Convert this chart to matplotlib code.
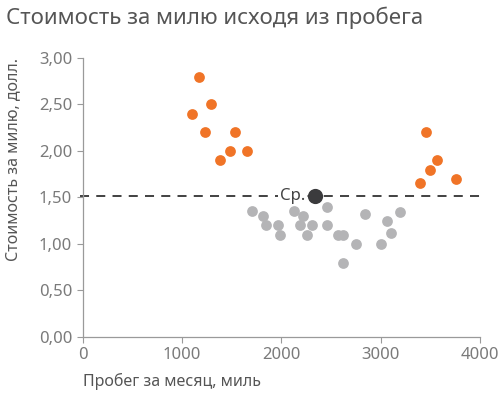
import matplotlib.pyplot as plt
from matplotlib.ticker import FuncFormatter

plt.rcParams['font.family'] = ['Noto Sans', 'DejaVu Sans']

# high-cost outliers (orange)
hi_miles = [1100, 1175, 1290, 1230, 1530, 1480, 1650, 1380,
            3460, 3565, 3500, 3400, 3755]
hi_cost = [2.40, 2.80, 2.50, 2.20, 2.20, 2.00, 2.00, 1.90,
           2.20, 1.90, 1.80, 1.65, 1.70]

# typical months (gray)
lo_miles = [1710, 1820, 1850, 1970, 1990, 2130, 2220, 2190, 2310, 2260, 2460,
            2460, 2570, 2620, 2750, 2620, 2840, 3060, 3200, 3110, 3000]
lo_cost = [1.35, 1.30, 1.20, 1.20, 1.10, 1.35, 1.30, 1.20, 1.20, 1.10, 1.40,
           1.20, 1.10, 1.10, 1.00, 0.80, 1.32, 1.25, 1.34, 1.12, 1.00]

avg_miles = 2340
avg_cost = 1.52

x_ticks = [0, 1000, 2000, 3000, 4000]
y_ticks = [0, 0.5, 1.0, 1.5, 2.0, 2.5, 3.0]

ORANGE = '#F07427'
GRAY = '#B4B4B6'
DARK = '#3B3B3D'
TXT = '#7A7A7A'

fig = plt.figure(figsize=(5.03, 3.94), dpi=100)
ax = fig.add_axes([0.1644, 0.1447, 0.7896, 0.7083])

ax.axhline(avg_cost, xmin=-0.008, xmax=1.01, color='#333333', lw=1.3,
           dashes=(5, 4), clip_on=False, zorder=1)
ax.scatter(lo_miles, lo_cost, s=60, color=GRAY, lw=0, zorder=2)
ax.scatter(hi_miles, hi_cost, s=60, color=ORANGE, lw=0, zorder=3)
ax.scatter([avg_miles], [avg_cost], s=120, color=DARK, lw=0, zorder=4)
ax.annotate('Ср.', (avg_miles, avg_cost), xytext=(-7, 0),
            textcoords='offset points', ha='right', va='center',
            fontsize=12, color='#444444', fontweight='light',
            bbox=dict(fc='white', ec='none', pad=1.5), zorder=3)

ax.set_xlim(0, 4000)
ax.set_ylim(0, 3.0)
ax.set_xticks(x_ticks)
ax.set_yticks(y_ticks)
ax.yaxis.set_major_formatter(FuncFormatter(lambda v, p: f'{v:.2f}'.replace('.', ',')))

for side in ['top', 'right']:
    ax.spines[side].set_visible(False)
for side in ['left', 'bottom']:
    ax.spines[side].set_color('#9A9A9A')
    ax.spines[side].set_linewidth(0.9)
ax.tick_params(colors='#9A9A9A', labelcolor=TXT, labelsize=12, length=4, width=0.8)

ax.set_xlabel('Пробег за месяц, миль', loc='left', fontsize=11.5, color='#555555',
              labelpad=7)
ax.set_ylabel('Стоимость за милю, долл.', loc='top', fontsize=11.5, color='#555555')
ax.yaxis.set_label_coords(-0.155, 1.0)

fig.text(0.012, 0.955, 'Стоимость за милю исходя из пробега', fontsize=16,
         color='#555555', va='center', ha='left', fontweight='light')

fig.savefig('out.png', dpi=100)
